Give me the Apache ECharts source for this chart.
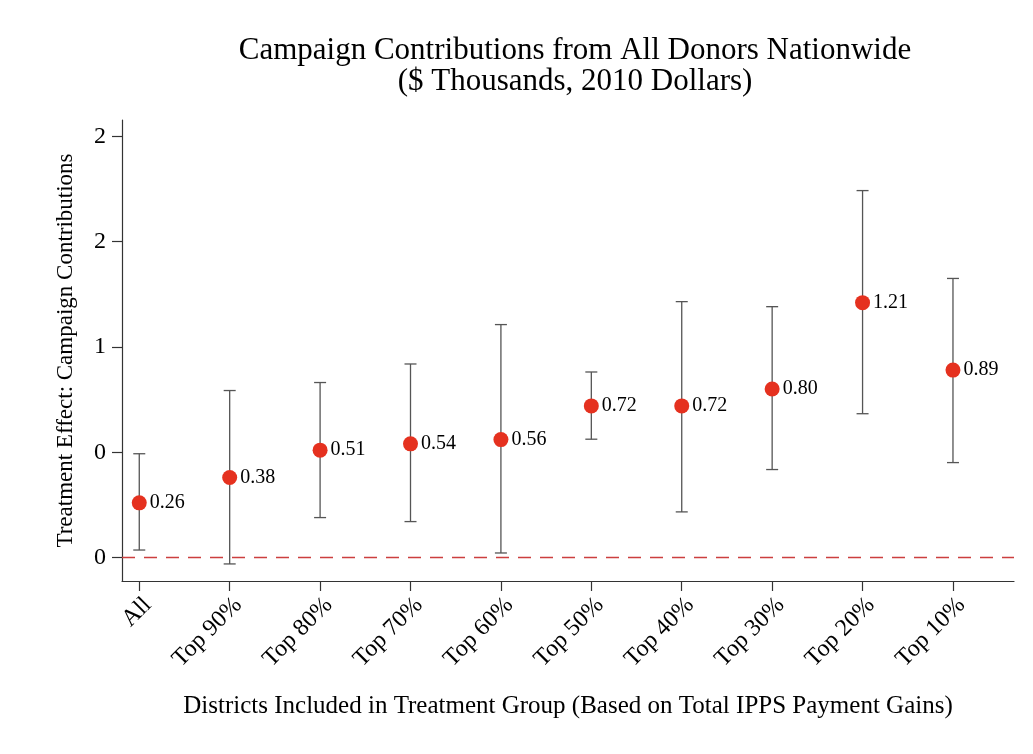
<!DOCTYPE html>
<html>
<head>
<meta charset="utf-8">
<script src="https://cdn.jsdelivr.net/npm/echarts@6/dist/echarts.min.js"></script>
<style>html,body{margin:0;padding:0;background:#fff;}#chart{width:1033px;height:754px;}</style>
</head>
<body>
<div id="chart"></div>
<script>
const categories = ["All","Top 90%","Top 80%","Top 70%","Top 60%","Top 50%","Top 40%","Top 30%","Top 20%","Top 10%"];
const estimates = [0.26, 0.38, 0.51, 0.54, 0.56, 0.72, 0.72, 0.80, 1.21, 0.89];
const ciLower = [0.036, -0.030, 0.190, 0.171, 0.022, 0.562, 0.217, 0.418, 0.683, 0.451];
const ciUpper = [0.493, 0.793, 0.831, 0.919, 1.106, 0.881, 1.215, 1.191, 1.742, 1.325];
const yTickValues = [0, 0.5, 1, 1.5, 2];
const yTickLabels = ["0", "0", "1", "2", "2"];

const FONT = "'Liberation Serif','Times New Roman',serif";
const xPos = categories.map((c, i) => i + 1);

const chart = echarts.init(document.getElementById('chart'), null, {renderer: 'canvas'});
chart.setOption({
  backgroundColor: '#ffffff',
  animation: false,
  title: {
    text: 'Campaign Contributions from All Donors Nationwide\n($ Thousands, 2010 Dollars)',
    left: 570, top: 30, textAlign: 'center',
    textStyle: {fontFamily: FONT, fontWeight: 'normal', fontSize: 31, lineHeight: 31, color: '#000'}
  },
  grid: {left: 122, right: 19, top: 120, bottom: 173, containLabel: false},
  xAxis: {
    type: 'value', min: 0.809, max: 10.675,
    splitLine: {show: false},
    axisLine: {show: true, onZero: false, lineStyle: {color: '#333', width: 1.2}},
    axisTick: {show: true, customValues: xPos, length: 10, lineStyle: {color: '#333', width: 1.2}},
    axisLabel: {
      customValues: xPos, rotate: 45, margin: 12, verticalAlign: 'top',
      fontFamily: FONT, fontSize: 24, color: '#000',
      formatter: v => categories[Math.round(v) - 1] || ''
    },
    name: 'Districts Included in Treatment Group (Based on Total IPPS Payment Gains)',
    nameLocation: 'middle', nameGap: 113,
    nameTextStyle: {fontFamily: FONT, fontSize: 25, color: '#000'}
  },
  yAxis: {
    type: 'value', min: -0.111, max: 2.077,
    splitLine: {show: false},
    axisLine: {show: true, onZero: false, lineStyle: {color: '#333', width: 1.2}},
    axisTick: {show: true, customValues: yTickValues, length: 10, lineStyle: {color: '#333', width: 1.2}},
    axisLabel: {
      customValues: yTickValues, margin: 16,
      fontFamily: FONT, fontSize: 24, color: '#000',
      formatter: v => { const i = yTickValues.findIndex(t => Math.abs(t - v) < 1e-6); return i >= 0 ? yTickLabels[i] : ''; }
    },
    name: 'Treatment Effect: Campaign Contributions',
    nameLocation: 'middle', nameGap: 45,
    nameTextStyle: {fontFamily: FONT, fontSize: 23, color: '#000'}
  },
  series: [
    {
      type: 'custom',
      data: xPos.map((x, i) => [x, ciLower[i], ciUpper[i]]),
      renderItem: function (params, api) {
        const x = api.value(0);
        const lo = api.coord([x, api.value(1)]);
        const hi = api.coord([x, api.value(2)]);
        const hw = 6;
        const style = {stroke: '#555', lineWidth: 1.3};
        return {
          type: 'group',
          children: [
            {type: 'line', shape: {x1: lo[0], y1: lo[1], x2: hi[0], y2: hi[1]}, style: style},
            {type: 'line', shape: {x1: lo[0] - hw, y1: lo[1], x2: lo[0] + hw, y2: lo[1]}, style: style},
            {type: 'line', shape: {x1: hi[0] - hw, y1: hi[1], x2: hi[0] + hw, y2: hi[1]}, style: style}
          ]
        };
      },
      z: 2
    },
    {
      type: 'scatter',
      data: xPos.map((x, i) => [x, estimates[i]]),
      symbolSize: 15,
      itemStyle: {color: '#e5311f', opacity: 1},
      label: {
        show: true, position: 'right', distance: 3,
        fontFamily: FONT, fontSize: 20, color: '#000',
        formatter: p => p.value[1].toFixed(2)
      },
      markLine: {
        silent: true, symbol: 'none', label: {show: false},
        lineStyle: {color: '#cc3f3f', type: [13, 9], width: 1.3},
        data: [{yAxis: 0}]
      },
      z: 3
    }
  ]
});
</script>
</body>
</html>
